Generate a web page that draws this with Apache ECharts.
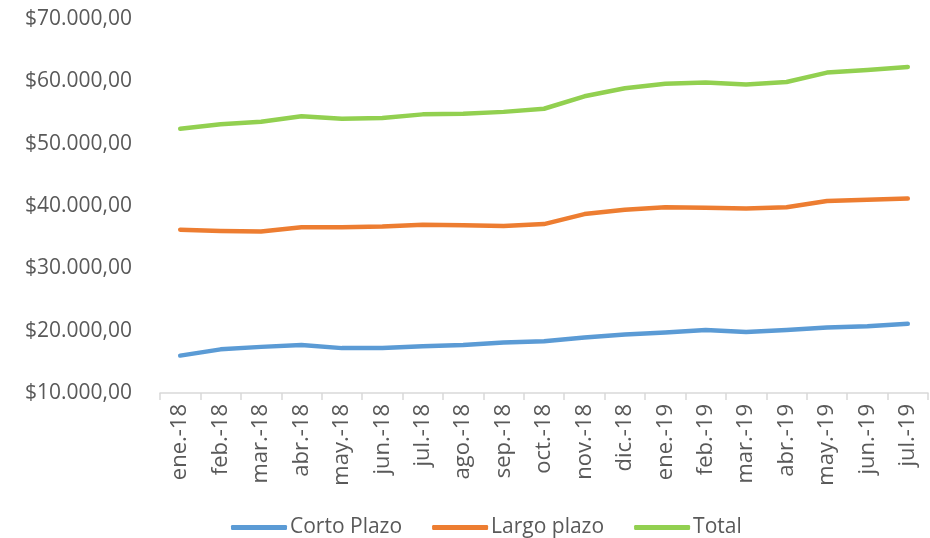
<!DOCTYPE html>
<html><head><meta charset="utf-8">
<script src="https://cdn.jsdelivr.net/npm/echarts@6/dist/echarts.min.js"></script>
<style>html,body{margin:0;padding:0;background:#fff}#c{width:930px;height:538px}</style>
</head><body><div id="c"></div>
<script>
const categories = ['ene.-18','feb.-18','mar.-18','abr.-18','may.-18','jun.-18','jul.-18','ago.-18','sep.-18','oct.-18','nov.-18','dic.-18','ene.-19','feb.-19','mar.-19','abr.-19','may.-19','jun.-19','jul.-19'];
const cortoPlazo = [16000,17000,17400,17700,17200,17200,17500,17700,18100,18300,18900,19400,19700,20100,19800,20100,20500,20700,21100];
const largoPlazo = [36200,36000,35900,36600,36600,36700,37000,36900,36800,37100,38700,39400,39800,39700,39600,39800,40800,41000,41200];
const total = [52400,53100,53500,54400,54000,54100,54700,54800,55100,55600,57600,58900,59600,59800,59500,59900,61400,61800,62300];
const seriesNames = ['Corto Plazo','Largo plazo','Total'];
const colors = ['#5B9BD5','#ED7D31','#92D050'];

function fmt(v){
  const s = Math.round(v).toString().replace(/\B(?=(\d{3})+(?!\d))/g,'.');
  return '$' + s + ',00';
}
const chart = echarts.init(document.getElementById('c'));
const data = [cortoPlazo, largoPlazo, total];
chart.setOption({
  animation:false,
  color: colors,
  textStyle:{fontFamily:'Open Sans'},
  grid:{left:160,right:2,top:19,bottom:145,containLabel:false},
  legend:{
    top:512, left:226, itemWidth:56, itemHeight:5, itemGap:30,
    icon:'roundRect',
    textStyle:{fontSize:21,color:'#595959',fontFamily:'Open Sans',padding:[0,0,0,-2]},
    data: seriesNames
  },
  xAxis:{
    type:'category', data:categories, boundaryGap:true,
    axisLine:{lineStyle:{color:'#D9D9D9',width:1.5}},
    axisTick:{show:true,length:7,lineStyle:{color:'#D9D9D9',width:1.5},interval:0},
    axisLabel:{rotate:90,interval:0,fontSize:22,color:'#595959',margin:11,fontFamily:'Open Sans'}
  },
  yAxis:{
    type:'value', min:10000, max:70000, interval:10000,
    axisLine:{show:false}, axisTick:{show:false},
    splitLine:{show:false},
    axisLabel:{formatter:fmt,fontSize:21,color:'#595959',margin:28,fontFamily:'Open Sans'}
  },
  series: seriesNames.map((n,i)=>({
    name:n, type:'line', data:data[i], showSymbol:false, symbol:'none',
    lineStyle:{width:4.5,color:colors[i],cap:'round',join:'round'}
  }))
});
</script></body></html>
